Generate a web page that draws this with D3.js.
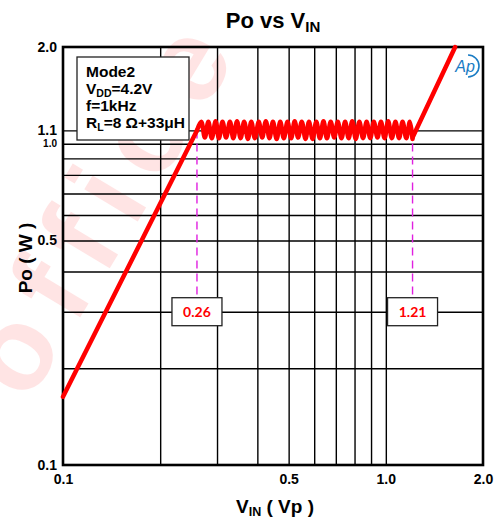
<!DOCTYPE html>
<html><head><meta charset="utf-8">
<script src="https://cdn.jsdelivr.net/npm/d3@7"></script>
<style>body{margin:0;background:#fff}</style>
</head><body>
<svg id="c" width="502" height="522" xmlns="http://www.w3.org/2000/svg"></svg>
<script>
// ---- data ----
const xTickValues = [0.1, 0.5, 1.0, 2.0];
const xTickLabels = ["0.1", "0.5", "1.0", "2.0"];
const yTickValues = [2.0, 1.1, 1.0, 0.5, 0.1];
const yTickLabels = ["2.0", "1.1", "1.0", "0.5", "0.1"];
const xGrid = [0.2, 0.3, 0.4, 0.5, 0.6, 0.7, 0.8, 0.9, 1.0];
const yGrid = [0.2, 0.3, 0.4, 0.5, 0.6, 0.7, 0.8, 0.9, 1.0, 1.1];
const riseLowV = [0.1, 0.26];
const riseLowP = [0.163, 1.10];
const plateauV = [0.26, 0.268, 0.275, 0.282, 0.289, 0.297, 0.304, 0.312, 0.320, 0.329, 0.337,
  0.346, 0.355, 0.364, 0.374, 0.383, 0.393, 0.404, 0.414, 0.425, 0.436, 0.447, 0.459, 0.471,
  0.483, 0.496, 0.509, 0.522, 0.535, 0.549, 0.564, 0.578, 0.593, 0.609, 0.625, 0.641, 0.657,
  0.675, 0.692, 0.710, 0.729, 0.748, 0.767, 0.787, 0.807, 0.828, 0.850, 0.872, 0.895, 0.918,
  0.942, 0.966, 0.991, 1.017, 1.044, 1.071, 1.099, 1.127, 1.157, 1.187, 1.21];
const plateauP = [1.10, 1.17, 1.045, 1.17, 1.04, 1.175, 1.04, 1.17, 1.045, 1.17, 1.04,
  1.175, 1.04, 1.17, 1.035, 1.17, 1.04, 1.17, 1.045, 1.175, 1.04, 1.17, 1.035, 1.17, 1.04,
  1.17, 1.04, 1.175, 1.045, 1.17, 1.035, 1.17, 1.035, 1.17, 1.04, 1.175, 1.04, 1.17, 1.045,
  1.17, 1.04, 1.17, 1.04, 1.175, 1.035, 1.17, 1.04, 1.17, 1.04, 1.17, 1.045, 1.17, 1.04,
  1.175, 1.04, 1.17, 1.04, 1.17, 1.04, 1.17, 1.035];
const riseHighV = [1.21, 1.64];
const riseHighP = [1.045, 2.0];
const markerV = [0.26, 1.21];
const markerLabels = ["0.26", "1.21"];
const markerTopP = 1.1;
const markerBoxP = 0.3;

// ---- layout ----
const L = 63, R = 483, T = 47, B = 465;
const svg = d3.select("#c");
const x = d3.scaleLog().domain([0.1, 2.0]).range([L, R]);
const y = d3.scaleLog().domain([0.1, 2.0]).range([B, T]);
const bold = "'Liberation Sans', Arial, sans-serif";

// watermark (faint, behind the chart)
svg.append("text")
  .attr("transform", "translate(28,404) rotate(-59)")
  .attr("font-family", bold).attr("font-weight", "bold").attr("font-size", 118)
  .attr("letter-spacing", 18)
  .attr("fill", "#ff0000").attr("opacity", 0.1)
  .text("office");

// grid
const gx = svg.append("g").attr("transform", `translate(0,${B})`)
  .call(d3.axisBottom(x).tickValues(xGrid).tickSize(-(B - T)).tickFormat(""));
gx.select(".domain").remove();
gx.selectAll("line").attr("stroke", "#000").attr("stroke-width", 1.4);
const gy = svg.append("g").attr("transform", `translate(${L},0)`)
  .call(d3.axisLeft(y).tickValues(yGrid).tickSize(-(R - L)).tickFormat(""));
gy.select(".domain").remove();
gy.selectAll("line").attr("stroke", "#000").attr("stroke-width", 1.4);

// border
svg.append("rect").attr("x", L).attr("y", T).attr("width", R - L).attr("height", B - T)
  .attr("fill", "none").attr("stroke", "#000").attr("stroke-width", 2.6);

// tick labels
const ax = svg.append("g").attr("transform", `translate(0,${B})`)
  .call(d3.axisBottom(x).tickValues(xTickValues).tickSize(0).tickPadding(9)
    .tickFormat((d, i) => xTickLabels[i]));
ax.select(".domain").remove();
ax.selectAll("text").attr("font-family", bold).attr("font-weight", "bold")
  .attr("font-size", 14).attr("fill", "#000");
const ay = svg.append("g").attr("transform", `translate(${L},0)`)
  .call(d3.axisLeft(y).tickValues(yTickValues).tickSize(0).tickPadding(6)
    .tickFormat((d, i) => yTickLabels[i]));
ay.select(".domain").remove();
ay.selectAll("text").attr("font-family", bold).attr("font-weight", "bold")
  .attr("font-size", (d, i) => yTickLabels[i] === "1.0" ? 10 : 14).attr("fill", "#000");

// legend box
const lg = svg.append("g");
lg.append("rect").attr("x", 77).attr("y", 57).attr("width", 112).attr("height", 83)
  .attr("fill", "#fff").attr("stroke", "#222").attr("stroke-width", 1.3);
const lt = lg.append("text").attr("font-family", bold).attr("font-weight", "bold")
  .attr("font-size", 15.5).attr("fill", "#000");
lt.append("tspan").attr("x", 86).attr("y", 77).text("Mode2");
lt.append("tspan").attr("x", 86).attr("y", 94).text("V");
lt.append("tspan").attr("font-size", 10.5).attr("dy", 3).text("DD");
lt.append("tspan").attr("dy", -3).text("=4.2V");
lt.append("tspan").attr("x", 86).attr("y", 111).text("f=1kHz");
lt.append("tspan").attr("x", 86).attr("y", 128).text("R");
lt.append("tspan").attr("font-size", 10.5).attr("dy", 3).text("L");
lt.append("tspan").attr("dy", -3).text("=8 Ω+33μH");

// dashed markers
svg.selectAll("line.mk").data(markerV).join("line").attr("class", "mk")
  .attr("x1", d => x(d)).attr("x2", d => x(d))
  .attr("y1", y(markerTopP)).attr("y2", y(markerBoxP) - 14)
  .attr("stroke", "#e020e0").attr("stroke-width", 1.4).attr("stroke-dasharray", "8,5");

// curve
const line = d3.line().x(d => x(d[0])).y(d => y(d[1]));
const curveG = svg.append("g").attr("fill", "none").attr("stroke", "#ff0000")
  .attr("stroke-width", 4.5).attr("stroke-linecap", "round").attr("stroke-linejoin", "round");
curveG.append("path").attr("d", line(riseLowV.map((v, i) => [v, riseLowP[i]])));
curveG.append("path").attr("d", line.curve(d3.curveCatmullRom)(plateauV.map((v, i) => [v, plateauP[i]])));
curveG.append("path").attr("d", line.curve(d3.curveLinear)(riseHighV.map((v, i) => [v, riseHighP[i]])));

// marker boxes
const mb = svg.selectAll("g.mb").data(markerV).join("g").attr("class", "mb");
mb.append("rect").attr("x", d => x(d) - 25).attr("y", y(markerBoxP) - 14)
  .attr("width", 50).attr("height", 28).attr("fill", "#fff")
  .attr("stroke", "#222").attr("stroke-width", 1.3);
mb.append("text").attr("x", d => x(d)).attr("y", y(markerBoxP) + 5)
  .attr("text-anchor", "middle").attr("font-family", "Lato, 'Open Sans', sans-serif")
  .attr("font-weight", "bold").attr("font-size", 14).attr("fill", "#ff0000")
  .text((d, i) => markerLabels[i]);

// Ap logo
const ap = svg.append("g").attr("transform", "translate(466,66)");
ap.append("text").attr("x", -1).attr("y", 5.5).attr("text-anchor", "middle")
  .attr("font-family", bold).attr("font-style", "italic").attr("font-size", 16)
  .attr("fill", "#1a7cc4").text("Ap");
ap.append("path").attr("d", "M2,-11 A11,11 0 0 1 2,11").attr("fill", "none")
  .attr("stroke", "#1a7cc4").attr("stroke-width", 1.6);

// title
const tt = svg.append("text").attr("x", 273).attr("y", 28).attr("text-anchor", "middle")
  .attr("font-family", bold).attr("font-weight", "bold").attr("font-size", 22).attr("fill", "#000");
tt.append("tspan").text("Po vs V");
tt.append("tspan").attr("font-size", 15).attr("dy", 4).text("IN");

// axis titles
const xt = svg.append("text").attr("x", 275).attr("y", 513).attr("text-anchor", "middle")
  .attr("font-family", bold).attr("font-weight", "bold").attr("font-size", 19).attr("fill", "#000");
xt.append("tspan").text("V");
xt.append("tspan").attr("font-size", 12.5).attr("dy", 3).text("IN");
xt.append("tspan").attr("dy", -3).text(" ( Vp )");

svg.append("text").attr("transform", "translate(32,258) rotate(-90)").attr("text-anchor", "middle")
  .attr("font-family", bold).attr("font-weight", "bold").attr("font-size", 19).attr("fill", "#000")
  .text("Po ( W )");
</script>
</body></html>
